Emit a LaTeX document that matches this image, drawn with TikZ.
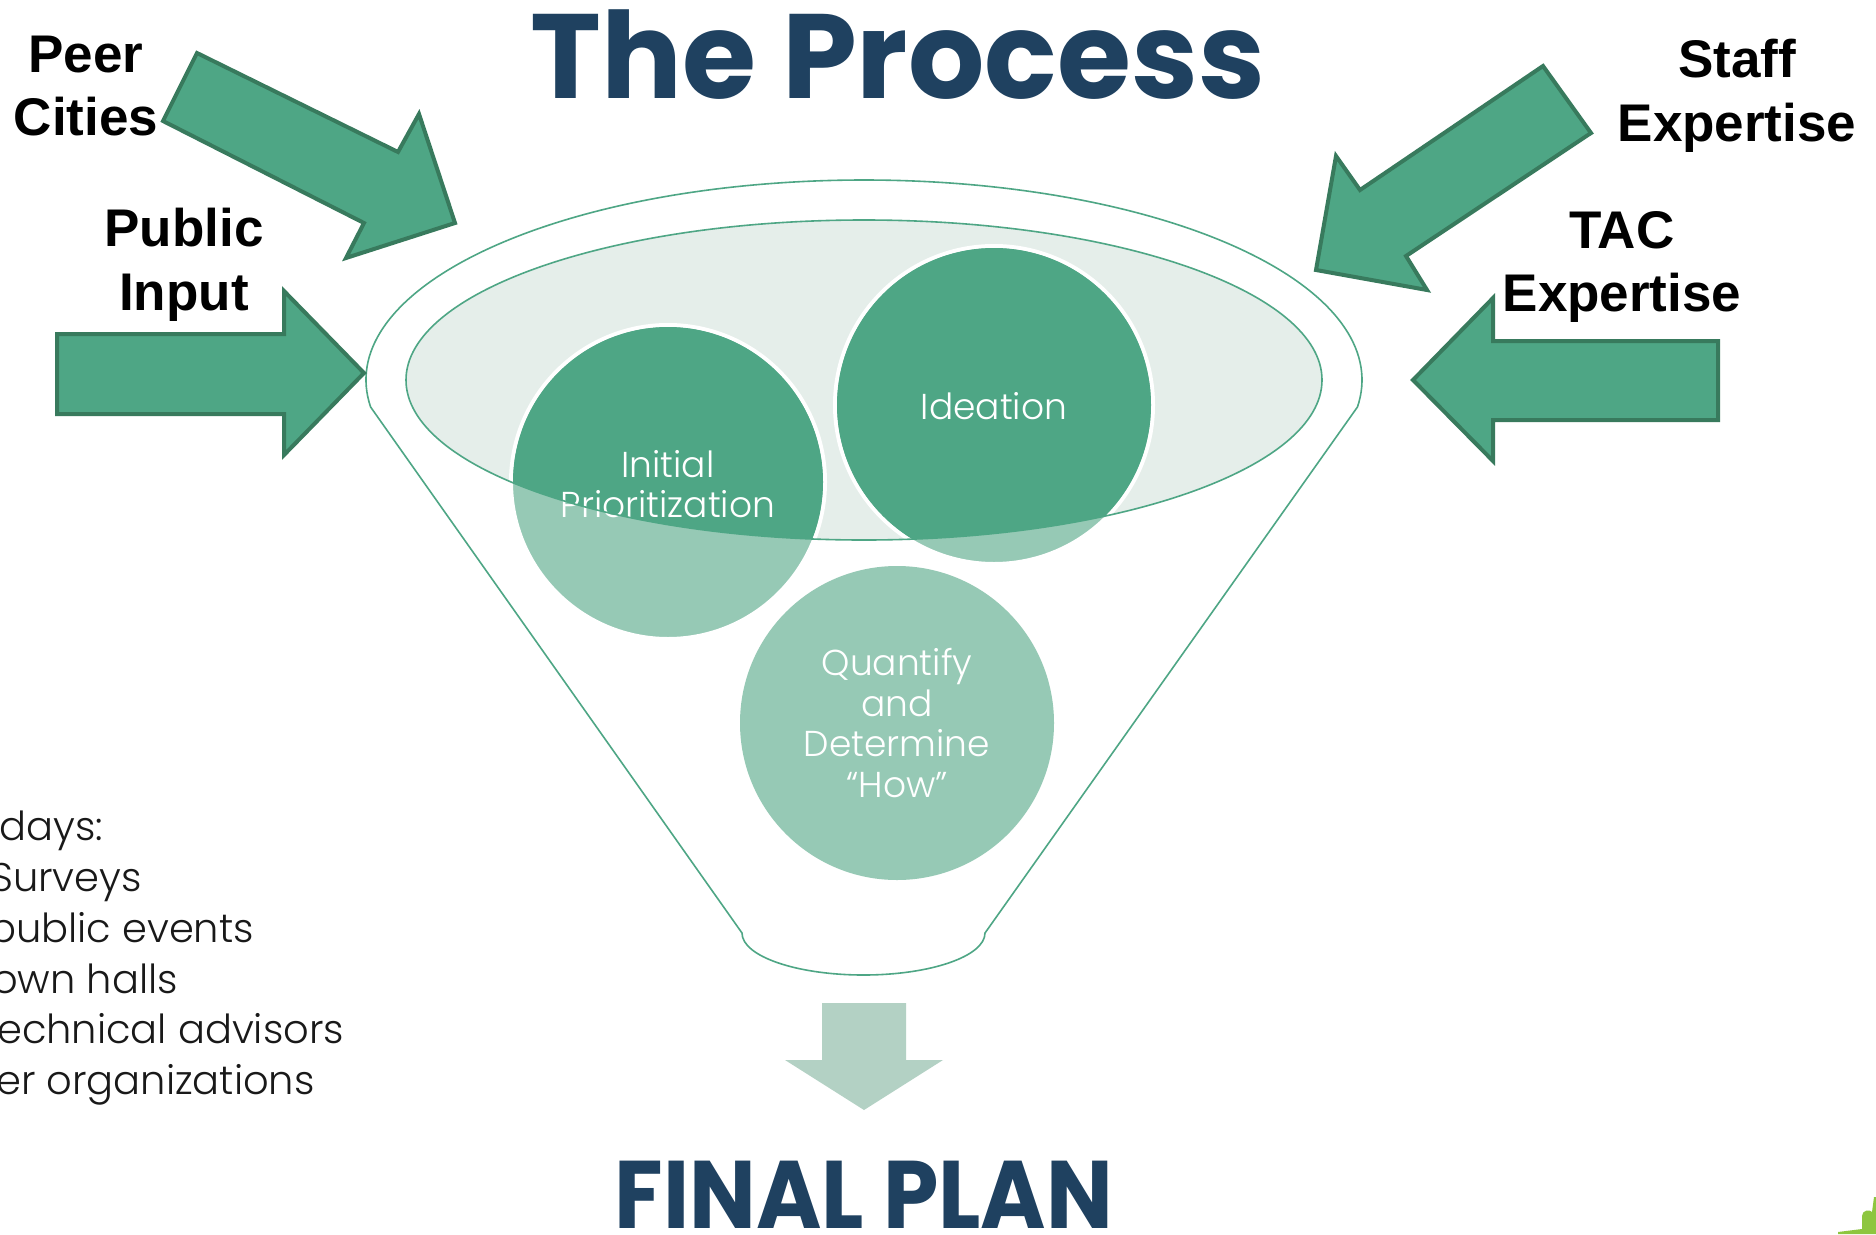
\documentclass[tikz,border=0pt]{standalone}
\usepackage{fontspec}
\usepackage{graphicx}
\newfontfamily\labfont{Liberation Sans}
\newfontfamily\geofont{Poppins}
\newfontfamily\geolight{Poppins Light}
\definecolor{navy}{HTML}{1F4160}
\definecolor{agreen}{HTML}{4EA685}
\definecolor{aborder}{HTML}{387A5D}
\definecolor{lgreen}{HTML}{96C9B5}
\definecolor{ellfill}{HTML}{E5EEEA}
\definecolor{darrow}{HTML}{B3D1C4}
\definecolor{limeg}{HTML}{8DC63F}
\begin{document}
\begin{tikzpicture}[x=1pt,y=-1pt,
  inarrow/.style={fill=agreen,draw=aborder,line width=4pt,line join=miter},
  lab/.style={font=\labfont\bfseries\fontsize{53}{63}\selectfont,text=black,inner sep=0pt,anchor=base},
  ctext/.style={font=\geolight\fontsize{36}{40}\selectfont,text=white,inner sep=0pt,anchor=base},
  ltext/.style={font=\geolight\fontsize{40}{50}\selectfont,text=black!90,inner sep=0pt,anchor=base west},
  funline/.style={draw=agreen,line width=1.6pt}]
\useasboundingbox (0,0) rectangle (1876,1234);
\clip (0,0) rectangle (1876,1234);
\fill[white] (0,0) rectangle (1876,1234);

% funnel
\path[funline,fill=white] (370.6,407) arc[start angle=172.24,end angle=367.76,x radius=498,y radius=200]
   -- (985,933) arc[start angle=0,end angle=180,x radius=121.5,y radius=42] -- cycle;
\fill[ellfill] (864,380) ellipse[x radius=458,y radius=160];

% circles (light)
\fill[lgreen,draw=white,line width=4pt] (668,482) circle[radius=157];
\fill[lgreen,draw=white,line width=4pt] (994,405) circle[radius=159];
\fill[lgreen] (897,723) circle[radius=157];
% dark part inside the inner ellipse
\begin{scope}
  \clip (864,380) ellipse[x radius=458,y radius=160];
  \fill[agreen] (668,482) circle[radius=155];
  \fill[agreen] (994,405) circle[radius=157];
\end{scope}

% circle texts
\node[ctext] (ide) at (994,419) {Ideation};
\node[ctext] (ini1) at (668,477) {Initial};
\node[ctext] (ini2) at (668,517) {Prioritization};
\node[ctext] (q1) at (897,675) {Quantify};
\node[ctext] (q2) at (897,716) {and};
\node[ctext] (q3) at (897,756) {Determine};
\node[ctext] (q4) at (897,797) {“How”};

% inner ellipse outline on top
\draw[funline] (864,380) ellipse[x radius=458,y radius=160];

% input arrows
\path[inarrow] (57,334) -- (284,334) -- (284,291) -- (364,373) -- (284,455) -- (284,414) -- (57,414) -- cycle;
\path[inarrow] (1718,341) -- (1493,341) -- (1493,298) -- (1413,380) -- (1493,461) -- (1493,420) -- (1718,420) -- cycle;
\path[inarrow] (197,53) -- (398,152) -- (419,114) -- (455,223) -- (346,258) -- (364,223) -- (163,121) -- cycle;
\path[inarrow] (1543,66) -- (1591,133) -- (1406,256) -- (1427,290) -- (1316,270) -- (1336,156) -- (1360,190) -- cycle;

% labels
\node[lab] (peer1) at (86,72) {Peer};
\node[lab] (peer2) at (86,135) {Cities};
\node[lab] (pub1) at (184,246) {Public};
\node[lab] (pub2) at (184,310) {Input};
\node[lab] (staff1) at (1737,77) {Staff};
\node[lab] (staff2) at (1737,141) {Expertise};
\node[lab] (tac1) at (1622,248) {TAC};
\node[lab] (tac2) at (1622,311) {Expertise};

% title
\node[font=\geofont\bfseries\fontsize{120}{130}\selectfont,text=navy,inner sep=0pt,anchor=base] (title) at (898,98) {The Process};

% down arrow and final plan
\fill[darrow] (822,1003) -- (906,1003) -- (906,1060) -- (943,1060) -- (864,1110) -- (785,1060) -- (822,1060) -- cycle;
\node[font=\geofont\bfseries\fontsize{96}{100}\selectfont,text=navy,inner sep=0pt,anchor=base] (final) at (864,1228) {\scalebox{0.925}[1]{FINAL PLAN}};

% left list (cut off at the page edge)
\node[ltext] (l1) at (-1,840) {days:};
\node[ltext] (l2) at (-10,891) {Surveys};
\node[ltext] (l3) at (-11,942) {public events};
\node[ltext] (l4) at (-8,993) {own halls};
\node[ltext] (l5) at (-3,1043) {echnical advisors};
\node[ltext] (l6) at (-4,1094) {er organizations};

% logo fragment bottom right
\fill[limeg] (1838,1232) -- (1862,1229) -- (1862,1216) .. controls (1862,1210) and (1870,1209) .. (1872,1212) -- (1874,1197) -- (1876,1197) -- (1876,1234) -- (1838,1234) -- cycle;
\end{tikzpicture}
\end{document}
